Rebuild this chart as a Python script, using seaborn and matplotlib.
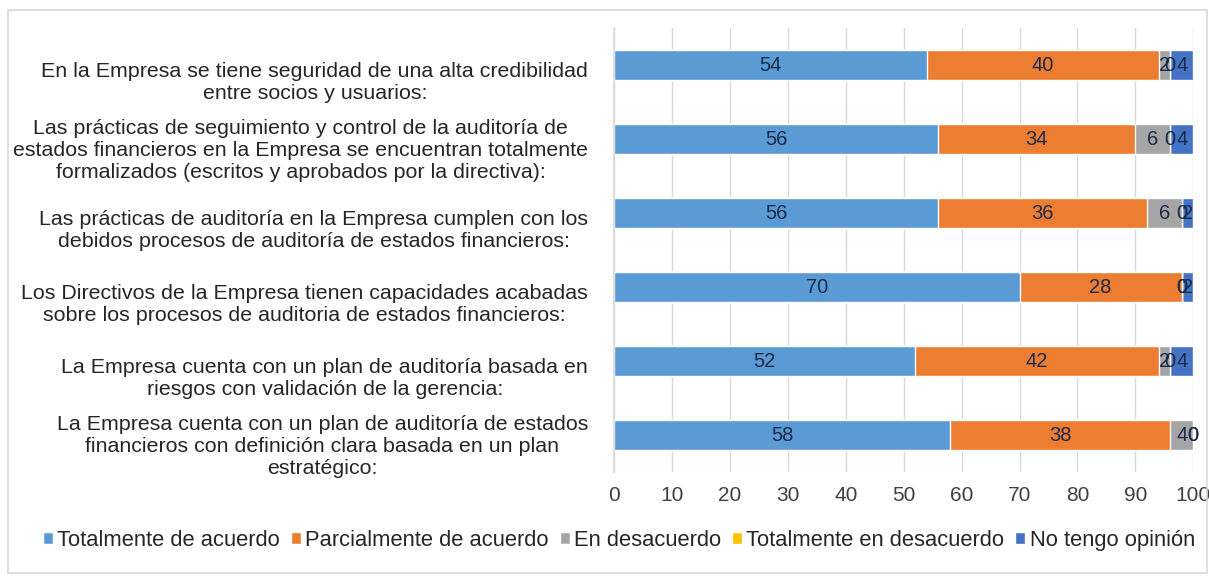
import matplotlib
matplotlib.use("Agg")
import matplotlib.pyplot as plt
import matplotlib.transforms as mtransforms
import seaborn as sns
import pandas as pd
import numpy as np
from matplotlib.patches import Rectangle

categories = [
    "En la Empresa se tiene seguridad de una alta credibilidad\nentre socios y usuarios:",
    "Las prácticas de seguimiento y control de la auditoría de\nestados financieros en la Empresa se encuentran totalmente\nformalizados (escritos y aprobados por la directiva):",
    "Las prácticas de auditoría en la Empresa cumplen con los\ndebidos procesos de auditoría de estados financieros:",
    "Los Directivos de la Empresa tienen capacidades acabadas\nsobre los procesos de auditoria de estados financieros:",
    "La Empresa cuenta con un plan de auditoría basada en\nriesgos con validación de la gerencia:",
    "La Empresa cuenta con un plan de auditoría de estados\nfinancieros con definición clara basada en un plan\nestratégico:",
]

series_names = [
    "Totalmente de acuerdo",
    "Parcialmente de acuerdo",
    "En desacuerdo",
    "Totalmente en desacuerdo",
    "No tengo opinión",
]

totalmente_de_acuerdo = [54, 56, 56, 70, 52, 58]
parcialmente_de_acuerdo = [40, 34, 36, 28, 42, 38]
en_desacuerdo = [2, 6, 6, 0, 2, 4]
totalmente_en_desacuerdo = [0, 0, 0, 0, 0, 0]
no_tengo_opinion = [4, 4, 2, 2, 4, 0]

colors = ["#5B9BD5", "#ED7D31", "#A5A5A5", "#FFC000", "#4472C4"]
x_ticks = [0, 10, 20, 30, 40, 50, 60, 70, 80, 90, 100]

values = np.array([totalmente_de_acuerdo, parcialmente_de_acuerdo, en_desacuerdo,
                   totalmente_en_desacuerdo, no_tengo_opinion], dtype=float)
cumulative = np.cumsum(values, axis=0)

sns.set_theme(style="white")
plt.rcParams["font.family"] = ["Liberation Sans", "DejaVu Sans"]

fig = plt.figure(figsize=(12.09, 5.76), dpi=100)
ax = fig.add_axes([0.508, 0.18, 0.479, 0.771])

# stacked bars: draw cumulative totals from the last series back to the first
for i in range(len(series_names) - 1, -1, -1):
    df = pd.DataFrame({"categoria": categories, "valor": cumulative[i]})
    sns.barplot(data=df, x="valor", y="categoria", orient="h", color=colors[i],
                width=0.405, saturation=1, ax=ax, label=series_names[i])

# value labels centred on each segment
for i in range(len(series_names)):
    for j in range(len(categories)):
        center = cumulative[i, j] - values[i, j] / 2
        ax.text(center, j, f"{int(values[i, j])}", ha="center", va="center",
                fontsize=14.5, color="#1C2B4A")

ax.set_xlim(0, 100)
ax.set_ylim(len(categories) - 0.5, -0.5)
ax.set_xticks(x_ticks)
ax.set_xlabel("")
ax.set_ylabel("")
ax.xaxis.grid(True, color="#D9D9D9", linewidth=1)
ax.set_axisbelow(True)
ax.tick_params(axis="x", labelsize=15, labelcolor="#404040", length=0, pad=10)

# category labels, right-aligned against the axis with centred lines
ax.set_yticklabels([])
ax.tick_params(axis="y", which="major", length=0)
for j, cat in enumerate(categories):
    n_lines = cat.count("\n") + 1
    dy = -17 if n_lines == 2 else -11
    off = mtransforms.ScaledTranslation(-26 / 100, dy / 100, fig.dpi_scale_trans)
    ax.text(0, j, cat, transform=ax.get_yaxis_transform() + off, ha="right",
            va="center", multialignment="center", fontsize=15.4, color="#262626")

ax.set_yticks(np.arange(-0.5, len(categories), 1), minor=True)
ax.tick_params(axis="y", which="minor", length=6, color="#D9D9D9", width=1)
for side in ["top", "right", "bottom"]:
    ax.spines[side].set_visible(False)
ax.spines["left"].set_color("#D9D9D9")

# legend in series order
handles, labels = ax.get_legend_handles_labels()
order = [labels.index(n) for n in series_names]
ax.legend([handles[k] for k in order], series_names, loc="center",
          bbox_to_anchor=(0.512, 0.062), bbox_transform=fig.transFigure, ncol=5,
          frameon=False, fontsize=15.8, handlelength=0.45, handleheight=0.45,
          handletextpad=0.2, columnspacing=0.5, labelcolor="#262626")

# light outer frame
fig.patches.append(Rectangle((0.007, 0.005), 0.991, 0.978, transform=fig.transFigure,
                             fill=False, edgecolor="#D9D9D9", linewidth=1.2))

fig.savefig("out.png", dpi=100, facecolor="white")
